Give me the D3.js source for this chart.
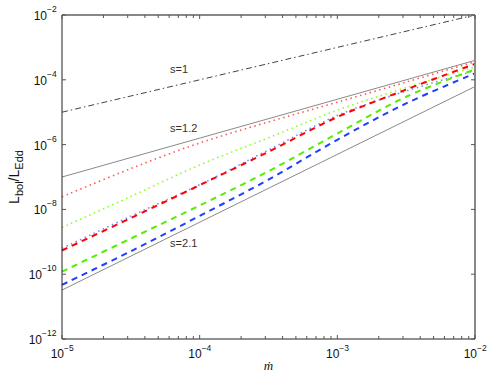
<!DOCTYPE html>
<html>
<head>
<meta charset="utf-8">
<script src="https://d3js.org/d3.v7.min.js"></script>
<style>
    body { margin: 0; padding: 0; background: #fff; }
    svg { display: block; font-family: 'Liberation Sans', Arial, sans-serif; }
</style>
</head>
<body>
<div id="chart"></div>
<script>
    // accretion rate samples (x)
    let mdot = [1e-5, 3.16e-5, 1e-4, 3.16e-4, 1e-3, 3.16e-3, 1e-2];

    // model curves
    let redDotted   = [2.45e-8, 1.82e-7, 1.12e-6, 5.0e-6, 2.04e-5, 8.5e-5, 3.63e-4];
    let greenDotted = [2.75e-9, 2.5e-8, 2.34e-7, 1.62e-6, 1.15e-5, 5.75e-5, 2.51e-4];
    let blueDotted  = [6.3e-10, 6.2e-9, 5.75e-8, 6.8e-7, 7.9e-6, 4.5e-5, 1.9e-4];
    let redDashed   = [5.4e-10, 5.4e-9, 5.6e-8, 6.0e-7, 7.1e-6, 5.0e-5, 3.1e-4];
    let greenDashed = [1.2e-10, 1.26e-9, 1.32e-8, 1.51e-7, 2.19e-6, 3.0e-5, 2.1e-4];
    let blueDashed  = [4.7e-11, 5.1e-10, 6.3e-9, 8.3e-8, 1.41e-6, 1.86e-5, 1.58e-4];

    // power-law reference lines (endpoints)
    let refX  = [1e-5, 1e-2];
    let ref1  = [1e-5, 1e-2];
    let ref12 = [1e-7, 3.98e-4];
    let ref21 = [3.24e-11, 6.2e-5];
    let refLabels = ["s=1", "s=1.2", "s=2.1"];
    let refLabelPos = [[6.1e-5, 1.6e-4], [6.1e-5, 2.45e-6], [6.1e-5, 6.9e-10]];

    let xTicks = [-5, -4, -3, -2];
    let yTicks = [-2, -4, -6, -8, -10, -12];

    let width = 491, height = 376;
    let m = {left: 62, right: 16, top: 15, bottom: 37};

    let x = d3.scaleLog().domain([1e-5, 1e-2]).range([m.left, width - m.right]);
    let y = d3.scaleLog().domain([1e-12, 1e-2]).range([height - m.bottom, m.top]);

    let svg = d3.select("#chart").append("svg")
        .attr("width", width).attr("height", height);

    let line = d3.line()
        .x(function(d){ return x(d[0]); })
        .y(function(d){ return y(d[1]); })
        .curve(d3.curveCatmullRom);

    function draw(xs, ys, color, w, dash) {
        svg.append("path")
            .datum(xs.map(function(v, i){ return [v, ys[i]]; }))
            .attr("d", line)
            .attr("fill", "none")
            .attr("stroke", color)
            .attr("stroke-width", w)
            .attr("stroke-dasharray", dash);
    }

    draw(refX, ref1, "#444", 1, "6,3,1.5,3");
    draw(refX, ref12, "#8a8a8a", 1, null);
    draw(refX, ref21, "#8a8a8a", 1, null);

    draw(mdot, redDotted, "#ff5a5a", 1.6, "1.5,3.5");
    draw(mdot, greenDotted, "#88ff22", 1.6, "1.5,3.5");
    draw(mdot, blueDotted, "#7788ff", 1.6, "1.5,3.5");

    draw(mdot, greenDashed, "#55ee00", 2, "6,5");
    draw(mdot, blueDashed, "#1f3fff", 2, "6,5");
    draw(mdot, redDashed, "#ff0000", 2, "6,5");

    // annotations
    svg.selectAll(".ann")
        .data(refLabels)
        .enter().append("text")
        .attr("x", function(d, i){ return x(refLabelPos[i][0]); })
        .attr("y", function(d, i){ return y(refLabelPos[i][1]); })
        .attr("font-size", 11)
        .attr("fill", "#333")
        .text(function(d){ return d; });

    // frame
    let x0 = m.left, x1 = width - m.right, y0 = m.top, y1 = height - m.bottom;
    svg.append("line").attr("x1", x0).attr("x2", x1).attr("y1", y0).attr("y2", y0)
        .attr("stroke", "#888").attr("stroke-width", 2);
    svg.append("line").attr("x1", x1).attr("x2", x1).attr("y1", y0).attr("y2", y1)
        .attr("stroke", "#888").attr("stroke-width", 2);
    svg.append("line").attr("x1", x0).attr("x2", x1).attr("y1", y1).attr("y2", y1)
        .attr("stroke", "#222").attr("stroke-width", 1);
    svg.append("line").attr("x1", x0).attr("x2", x0).attr("y1", y0).attr("y2", y1)
        .attr("stroke", "#222").attr("stroke-width", 1);

    // x ticks (major + minor), inward on bottom and top
    let allX = [];
    for (let e = -5; e < -2; e++) {
        for (let k = 1; k < 10; k++) allX.push([k * Math.pow(10, e), k == 1]);
    }
    allX.push([1e-2, true]);
    allX.forEach(function(t) {
        let len = t[1] ? 4 : 3;
        let px = x(t[0]);
        svg.append("line").attr("x1", px).attr("x2", px).attr("y1", y1).attr("y2", y1 - len)
            .attr("stroke", "#555").attr("stroke-width", 1);
        svg.append("line").attr("x1", px).attr("x2", px).attr("y1", y0).attr("y2", y0 + len)
            .attr("stroke", "#555").attr("stroke-width", 1);
    });

    yTicks.forEach(function(e) {
        let py = y(Math.pow(10, e));
        svg.append("line").attr("x1", x0).attr("x2", x0 + 4).attr("y1", py).attr("y2", py)
            .attr("stroke", "#555");
        svg.append("line").attr("x1", x1).attr("x2", x1 - 4).attr("y1", py).attr("y2", py)
            .attr("stroke", "#555");
    });

    // tick labels 10^n
    xTicks.forEach(function(e) {
        let px = x(Math.pow(10, e));
        svg.append("text").attr("x", px + 2).attr("y", 358)
            .attr("font-size", 12).attr("text-anchor", "end").attr("fill", "#111").text("10");
        svg.append("text").attr("x", px + 2).attr("y", 351)
            .attr("font-size", 8.5).attr("fill", "#111").text("\u2212" + (-e));
    });

    yTicks.forEach(function(e) {
        let py = y(Math.pow(10, e));
        let ex = "\u2212" + (-e);
        let expW = ex.length > 2 ? 15 : 10;
        svg.append("text").attr("x", 57 - expW).attr("y", py + 5)
            .attr("font-size", 12).attr("text-anchor", "end").attr("fill", "#111").text("10");
        svg.append("text").attr("x", 57 - expW).attr("y", py - 3)
            .attr("font-size", 8.5).attr("fill", "#111").text(ex);
    });

    // axis titles
    let yl = svg.append("text")
        .attr("transform", "translate(19," + ((y0 + y1) / 2) + ") rotate(-90)")
        .attr("text-anchor", "middle")
        .attr("font-size", 14).attr("fill", "#111");
    yl.append("tspan").text("L");
    yl.append("tspan").attr("font-size", 11).attr("dy", 4).text("bol");
    yl.append("tspan").attr("dy", -4).text("/L");
    yl.append("tspan").attr("font-size", 11).attr("dy", 4).text("Edd");

    svg.append("text")
        .attr("x", (x0 + x1) / 2).attr("y", 370)
        .attr("text-anchor", "middle")
        .attr("font-family", "'Liberation Serif', serif")
        .attr("font-style", "italic")
        .attr("font-size", 13).attr("fill", "#111")
        .text("\u1E41");
</script>
</body>
</html>
